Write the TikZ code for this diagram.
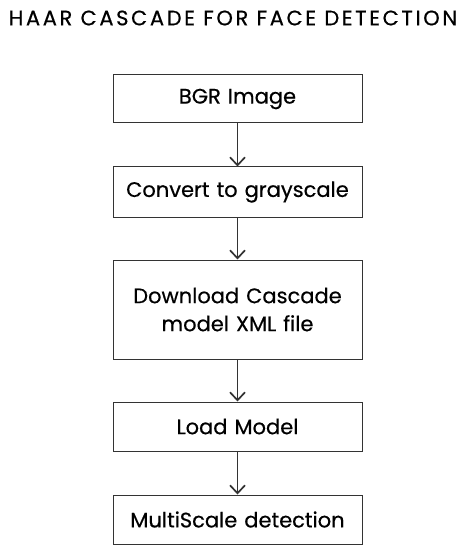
\documentclass[tikz,border=0pt]{standalone}
\usepackage{fontspec}
\setmainfont{Poppins}[FakeBold=0.5]
\usetikzlibrary{arrows.meta}
\tikzset{
  stage/.style={draw=black!80, line width=1pt, minimum width=249pt, text width=240pt, align=center, font=\fontsize{21}{28}\selectfont},
  flow/.style={-{Straight Barb[length=8pt,width=15pt]}, line width=1.7pt, draw=black!80}
}
\begin{document}
\begin{tikzpicture}[x=1pt,y=1pt]
    \useasboundingbox (0,0) rectangle (467,-553);
    \node (title) at (233,-18) {\fontsize{21}{24}\selectfont\addfontfeatures{LetterSpace=12.5}HAAR CASCADE FOR FACE DETECTION};
    \node [stage, minimum height=48pt] (bgr) at (237.5,-99) {BGR Image};
    \node [stage, minimum height=50pt] (gray) at (237.5,-192) {Convert to grayscale};
    \node [stage, minimum height=99pt] (xml) at (237.5,-309.5) {Download Cascade\\model XML file};
    \node [stage, minimum height=49pt] (load) at (237.5,-426.5) {Load Model};
    \node [stage, minimum height=49pt] (detect) at (237.5,-519.5) {MultiScale detection};
    \draw [flow] (bgr) -- (gray);
    \draw [flow] (gray) -- (xml);
    \draw [flow] (xml) -- (load);
    \draw [flow] (load) -- (detect);
\end{tikzpicture}
\end{document}
